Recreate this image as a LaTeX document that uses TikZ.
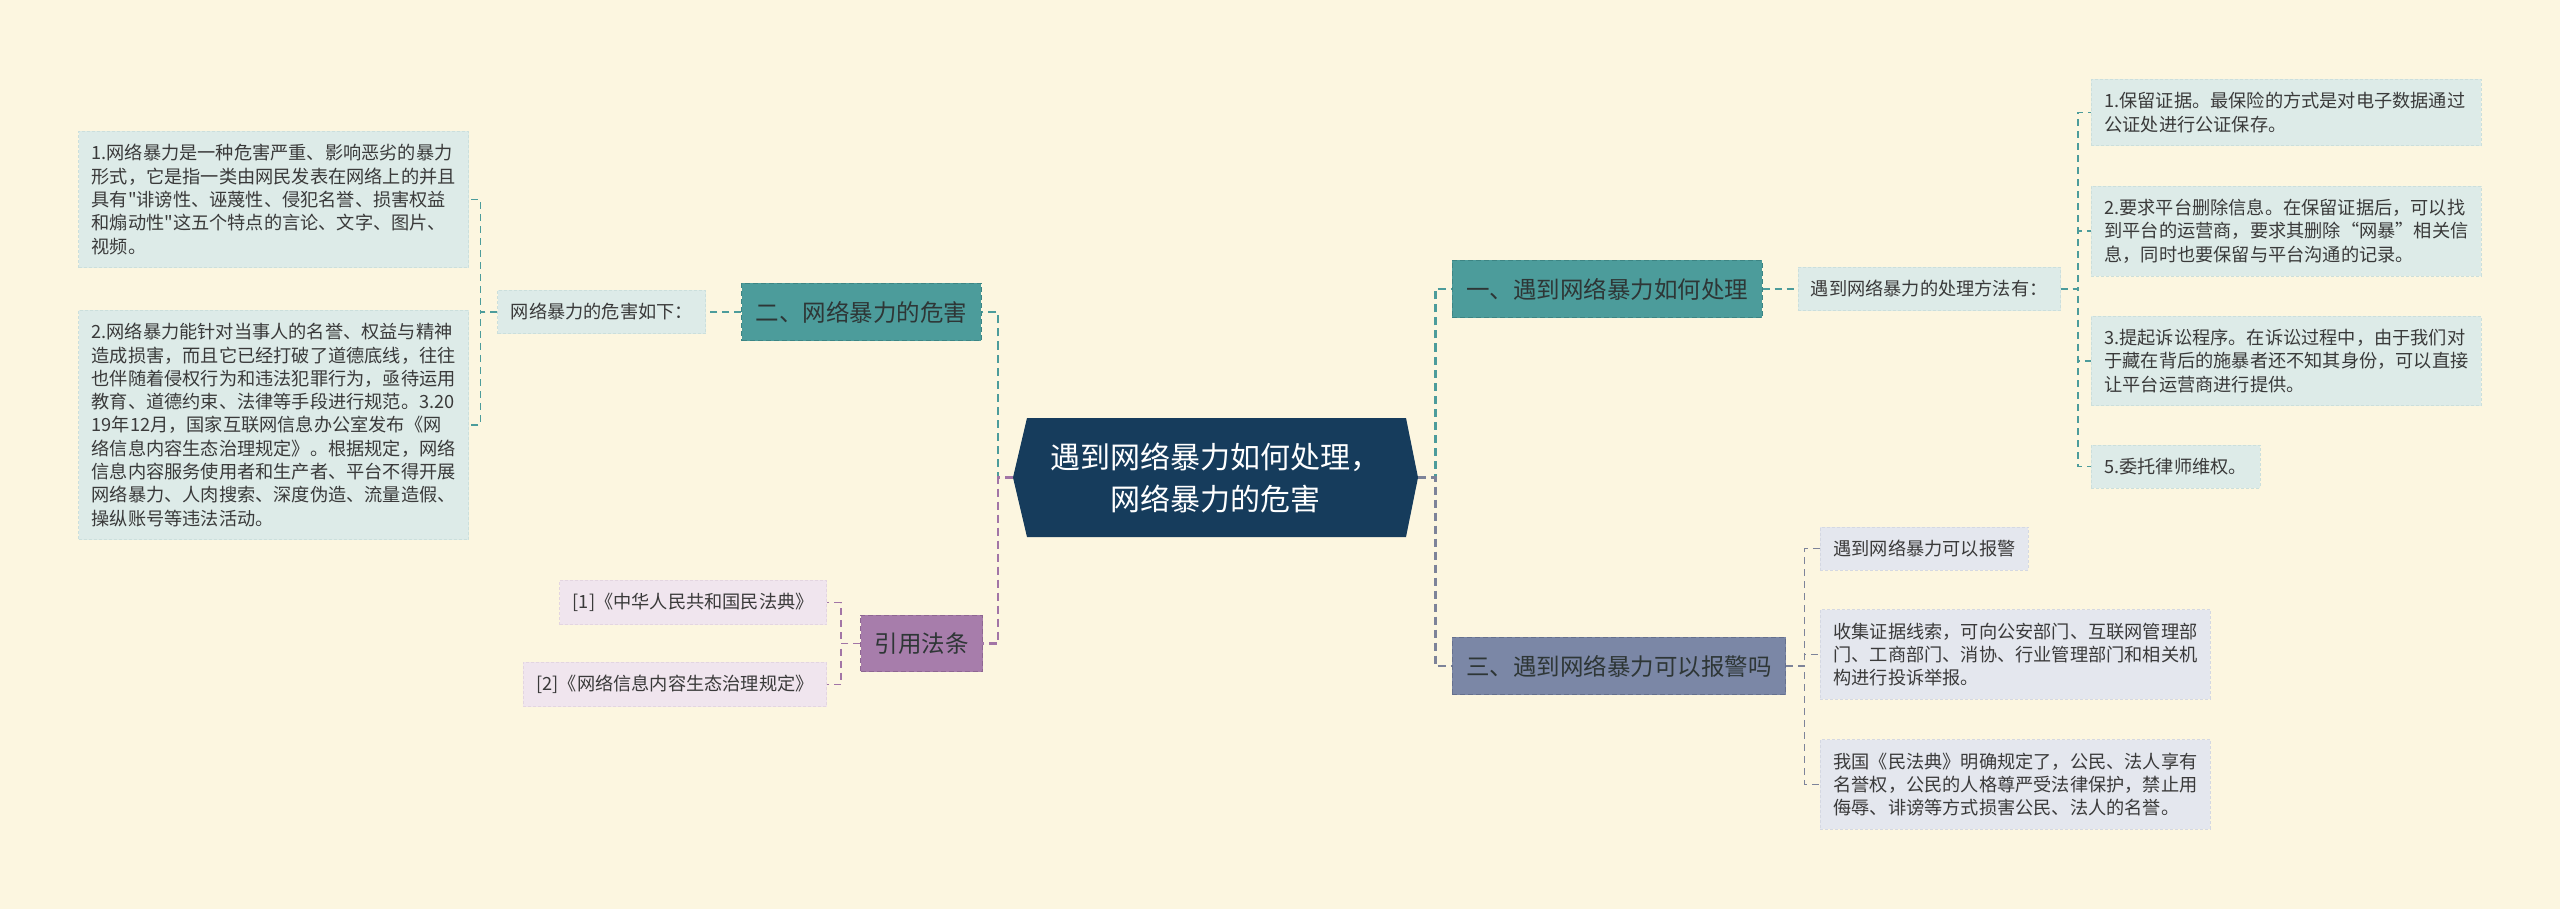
\documentclass[tikz,border=0pt]{standalone}
\usepackage{fontspec}
\setmainfont{Noto Sans CJK SC}[Ligatures=TeXOff]
\usetikzlibrary{positioning}
\definecolor{cream}{HTML}{FCF6E0}
\definecolor{navy}{HTML}{163C5C}
\definecolor{teal}{HTML}{4C9C9B}
\definecolor{tealdark}{HTML}{3C8584}
\definecolor{tealleaf}{HTML}{DDEBE8}
\definecolor{tealleafline}{HTML}{CBDFDC}
\definecolor{tealline}{HTML}{4C9C9B}
\definecolor{plum}{HTML}{A77DAB}
\definecolor{plumdark}{HTML}{8E6692}
\definecolor{plumleaf}{HTML}{F0E5EE}
\definecolor{plumleafline}{HTML}{E3D5E1}
\definecolor{plumline}{HTML}{A275A6}
\definecolor{slate}{HTML}{7B87A6}
\definecolor{slatedark}{HTML}{65708E}
\definecolor{slateleaf}{HTML}{E4E7EE}
\definecolor{slateleafline}{HTML}{D4D8E2}
\definecolor{slateline}{HTML}{7D8399}
\definecolor{topictext}{HTML}{2E3636}
\definecolor{leaftext}{HTML}{3A3A3A}

\begin{document}
\begin{tikzpicture}[x=1pt, y=1pt,
  root/.style={minimum width=405pt, minimum height=119pt, inner sep=0pt, align=center, text=white,
    font=\fontsize{30}{42}\selectfont,
    path picture={\fill[navy] (path picture bounding box.west)
      -- ([xshift=14pt]path picture bounding box.north west)
      -- ([xshift=-12pt]path picture bounding box.north east)
      -- (path picture bounding box.east)
      -- ([xshift=-12pt]path picture bounding box.south east)
      -- ([xshift=14pt]path picture bounding box.south west) -- cycle;}},
  topic/.style={font=\fontsize{23.5}{28}\selectfont, text=topictext, inner xsep=14pt, inner ysep=17.5pt,
    draw, line width=1pt, dash pattern=on 5pt off 3pt},
  leaf/.style={font=\fontsize{18.2}{23.3}\selectfont, text=leaftext, inner xsep=13pt, inner ysep=13pt,
    align=left, draw, line width=0.8pt, dash pattern=on 3pt off 2pt},
  wide/.style={leaf, text width=364pt},
  trunk/.style={line width=2.6pt, dash pattern=on 8pt off 5pt},
  twig/.style={line width=1.5pt, dash pattern=on 7pt off 5pt}]

  \fill[cream] (0,0) rectangle (2560,-909);
  \useasboundingbox (0,0) rectangle (2560,-909);

  \node[root] (root) at (1215.5,-477.5) {遇到网络暴力如何处理，\\网络暴力的危害};

  % left: harm
  \node[topic, fill=teal, draw=tealdark] (harm) at (861.5,-312) {二、网络暴力的危害};
  \node[leaf, fill=tealleaf, draw=tealleafline, left=35pt of harm] (harmlist) {网络暴力的危害如下：};
  \node[wide, fill=tealleaf, draw=tealleafline, anchor=east] (harm1) at (469,-199.5)
    {1.网络暴力是一种危害严重、影响恶劣的暴力\\形式，它是指一类由网民发表在网络上的并且\\具有"诽谤性、诬蔑性、侵犯名誉、损害权益\\和煽动性"这五个特点的言论、文字、图片、\\视频。};
  \node[wide, fill=tealleaf, draw=tealleafline, anchor=east] (harm2) at (469,-425)
    {2.网络暴力能针对当事人的名誉、权益与精神\\造成损害，而且它已经打破了道德底线，往往\\也伴随着侵权行为和违法犯罪行为，亟待运用\\教育、道德约束、法律等手段进行规范。3.20\\19年12月，国家互联网信息办公室发布《网\\络信息内容生态治理规定》。根据规定，网络\\信息内容服务使用者和生产者、平台不得开展\\网络暴力、人肉搜索、深度伪造、流量造假、\\操纵账号等违法活动。};

  % left: law
  \node[topic, fill=plum, draw=plumdark] (law) at (921.5,-643.5) {引用法条};
  \node[leaf, fill=plumleaf, draw=plumleafline, anchor=east] (law1) at (827,-602.5) {[1]《中华人民共和国民法典》};
  \node[leaf, fill=plumleaf, draw=plumleafline, anchor=east] (law2) at (827,-684.5) {[2]《网络信息内容生态治理规定》};

  % right: deal
  \node[topic, fill=teal, draw=tealdark] (deal) at (1607,-289) {一、遇到网络暴力如何处理};
  \node[leaf, fill=tealleaf, draw=tealleafline, right=35pt of deal] (deallist) {遇到网络暴力的处理方法有：};
  \node[wide, fill=tealleaf, draw=tealleafline, anchor=west] (deal1) at (2091,-112.5)
    {1.保留证据。最保险的方式是对电子数据通过\\公证处进行公证保存。};
  \node[wide, fill=tealleaf, draw=tealleafline, anchor=west] (deal2) at (2091,-231)
    {2.要求平台删除信息。在保留证据后，可以找\\到平台的运营商，要求其删除“网暴”相关信\\息，同时也要保留与平台沟通的记录。};
  \node[wide, fill=tealleaf, draw=tealleafline, anchor=west] (deal3) at (2091,-361)
    {3.提起诉讼程序。在诉讼过程中，由于我们对\\于藏在背后的施暴者还不知其身份，可以直接\\让平台运营商进行提供。};
  \node[leaf, fill=tealleaf, draw=tealleafline, anchor=west] (deal4) at (2091,-466.5) {5.委托律师维权。};

  % right: police
  \node[topic, fill=slate, draw=slatedark] (police) at (1619,-666) {三、遇到网络暴力可以报警吗};
  \node[leaf, fill=slateleaf, draw=slateleafline, anchor=west] (police1) at (1820,-548.5) {遇到网络暴力可以报警};
  \node[wide, fill=slateleaf, draw=slateleafline, anchor=west] (police2) at (1820,-654.5)
    {收集证据线索，可向公安部门、互联网管理部\\门、工商部门、消协、行业管理部门和相关机\\构进行投诉举报。};
  \node[wide, fill=slateleaf, draw=slateleafline, anchor=west] (police3) at (1820,-784.5)
    {我国《民法典》明确规定了，公民、法人享有\\名誉权，公民的人格尊严受法律保护，禁止用\\侮辱、诽谤等方式损害公民、法人的名誉。};

  % connectors
  \draw[trunk, tealline] (root.west) -- ++(-15,0) |- (harm.east);
  \draw[trunk, plumline] (root.west) -- ++(-15,0) |- (law.east);
  \draw[trunk, tealline] (root.east) -- ++(17,0) |- (deal.west);
  \draw[trunk, slateline] (root.east) -- ++(17,0) |- (police.west);

  \draw[twig, tealline] (harm.west) -- (harmlist.east);
  \foreach \n in {1,2}
    \draw[twig, tealline] (harmlist.west) -- ++(-17,0) |- (harm\n.east);
  \foreach \n in {1,2}
    \draw[twig, plumline] (law.west) -- ++(-19,0) |- (law\n.east);
  \draw[twig, tealline] (deal.east) -- (deallist.west);
  \foreach \n in {1,...,4}
    \draw[twig, tealline] (deallist.east) -- ++(17,0) |- (deal\n.west);
  \foreach \n in {1,2,3}
    \draw[twig, slateline] (police.east) -- ++(18,0) |- (police\n.west);
\end{tikzpicture}
\end{document}
